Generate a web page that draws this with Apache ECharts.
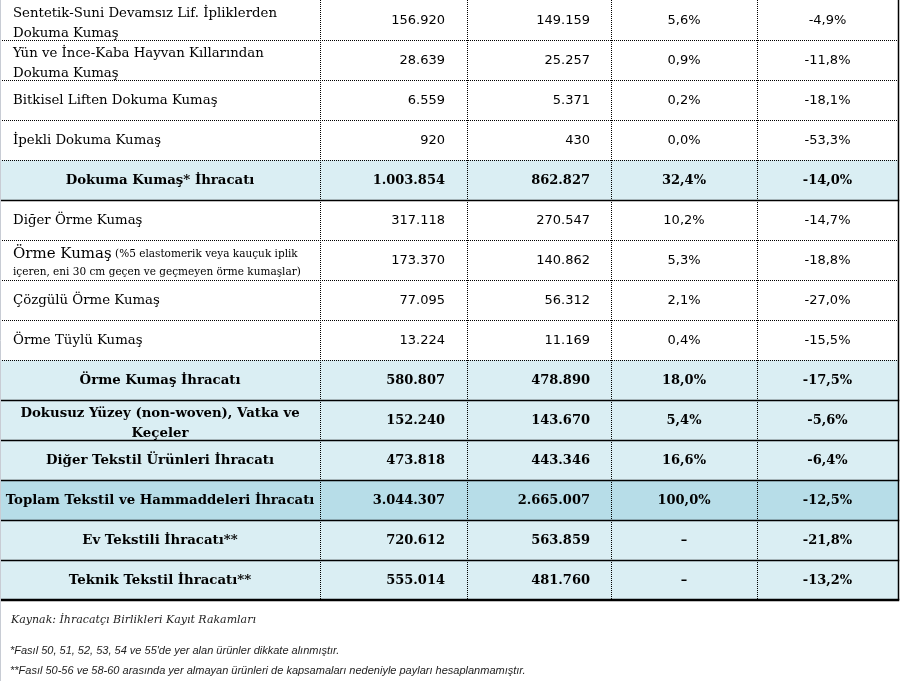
<!DOCTYPE html>
<html>
<head>
<meta charset="utf-8">
<script src="https://cdn.jsdelivr.net/npm/echarts@6/dist/echarts.min.js"></script>
<style>
html,body{margin:0;padding:0;background:#fff;}
#chart{width:901px;height:681px;}
</style>
</head>
<body>
<div id="chart"></div>
<script>
// ---- data ----
const categories = [
  "Sentetik-Suni Devamsız Lif. İpliklerden\nDokuma Kumaş",
  "Yün ve İnce-Kaba Hayvan Kıllarından\nDokuma Kumaş",
  "Bitkisel Liften Dokuma Kumaş",
  "İpekli Dokuma Kumaş",
  "Dokuma Kumaş* İhracatı",
  "Diğer Örme Kumaş",
  "Örme Kumaş (%5 elastomerik veya kauçuk iplik\niçeren, eni 30 cm geçen ve geçmeyen örme kumaşlar)",
  "Çözgülü Örme Kumaş",
  "Örme Tüylü Kumaş",
  "Örme Kumaş İhracatı",
  "Dokusuz Yüzey (non-woven), Vatka ve\nKeçeler",
  "Diğer Tekstil Ürünleri İhracatı",
  "Toplam Tekstil ve Hammaddeleri İhracatı",
  "Ev Tekstili İhracatı**",
  "Teknik Tekstil İhracatı**"
];
const exportPrev = [156920, 28639, 6559, 920, 1003854, 317118, 173370, 77095, 13224, 580807, 152240, 473818, 3044307, 720612, 555014];
const exportCurr = [149159, 25257, 5371, 430, 862827, 270547, 140862, 56312, 11169, 478890, 143670, 443346, 2665007, 563859, 481760];
const sharePct   = [5.6, 0.9, 0.2, 0.0, 32.4, 10.2, 5.3, 2.1, 0.4, 18.0, 5.4, 16.6, 100.0, null, null];
const changePct  = [-4.9, -11.8, -18.1, -53.3, -14.0, -14.7, -18.8, -27.0, -15.5, -17.5, -5.6, -6.4, -12.5, -21.8, -13.2];
const rowLevel   = ["item","item","item","item","subtotal","item","item","item","item","subtotal","subtotal","subtotal","total","subtotal","subtotal"];
const footnotes  = [
  "Kaynak: İhracatçı Birlikleri Kayıt Rakamları",
  "*Fasıl 50, 51, 52, 53, 54 ve 55'de yer alan ürünler dikkate alınmıştır.",
  "**Fasıl 50-56 ve 58-60 arasında yer almayan ürünleri de kapsamaları nedeniyle payları hesaplanmamıştır."
];

// ---- layout / style ----
const colEdges = [0, 320, 467, 611, 757, 898];
const fills = { item: "#ffffff", subtotal: "#daeef3", total: "#b7dde8" };

function fmtInt(n) { return String(n).replace(/\B(?=(\d{3})+(?!\d))/g, "."); }
function fmtPct(n) { return n === null ? "–" : n.toFixed(1).replace(".", ",") + "%"; }

const chart = echarts.init(document.getElementById("chart"), null, { renderer: "canvas" });

function rowGeom(api) {
  const i = api.value(1);
  const c = api.coord([0, i]);
  const h = api.size([0, 1])[1];
  const xs = colEdges.map(e => api.coord([e, i])[0]);
  return { i, top: c[1] - h / 2, bot: c[1] + h / 2, mid: c[1], h, xs };
}

function renderFill(params, api) {
  const g = rowGeom(api);
  return { type: "rect", shape: { x: g.xs[0], y: g.top, width: g.xs[5] - g.xs[0], height: g.h },
    style: { fill: fills[rowLevel[g.i]] } };
}

function renderCells(params, api) {
  const { i, top, bot, mid, xs } = rowGeom(api);
  const level = rowLevel[i];
  const bold = level !== "item";
  const children = [];
  for (let k = 1; k <= 4; k++) {
    const x = Math.round(xs[k]) + 0.5;
    children.push({ type: "line", shape: { x1: x, y1: top, x2: x, y2: bot },
      style: { stroke: "#000", lineWidth: 1, lineDash: [1, 1] } });
  }
  children.push({ type: "line", shape: { x1: xs[5] + 0.5, y1: top, x2: xs[5] + 0.5, y2: bot }, style: { stroke: "#000", lineWidth: 1.5 } });
  const last = i === categories.length - 1;
  const by = last ? Math.round(bot) : Math.round(bot) + 0.5;
  children.push({ type: "line", shape: { x1: xs[0], y1: by, x2: xs[5] + 1.25, y2: by },
    style: bold ? { stroke: "#000", lineWidth: last ? 2.5 : 1.3 } : { stroke: "#000", lineWidth: 1, lineDash: [1, 1] } });

  const name = categories[i];
  if (name.indexOf(" (%") > 0) {
    const p = name.indexOf(" (%");
    const head = name.slice(0, p);
    const rest = name.slice(p + 1).split("\n");
    children.push({ type: "text", style: {
      text: "{a|" + head + "} {b|" + rest[0] + "}\n{b|" + rest[1] + "}",
      x: xs[0] + 13, y: mid + 3, textAlign: "left", textVerticalAlign: "middle", fill: "#000",
      rich: { a: { fontFamily: "DejaVu Serif", fontSize: 15, lineHeight: 18, fill: "#000" },
              b: { fontFamily: "DejaVu Serif", fontSize: 10.5, lineHeight: 18, fill: "#000" } } } });
  } else {
    const multi = name.indexOf("\n") > 0;
    children.push({ type: "text", style: {
      text: name, x: bold ? (xs[0] + xs[1]) / 2 : xs[0] + 13, y: mid + (multi ? 3.5 : 1),
      textAlign: bold ? "center" : "left", textVerticalAlign: "middle",
      fontFamily: "DejaVu Serif", fontWeight: bold ? "bold" : "normal", fontSize: 13.3,
      lineHeight: 20, fill: "#000" } });
  }
  const ny = mid + 1;
  const numStyle = bold
    ? { fontFamily: "DejaVu Serif", fontWeight: "bold", fontSize: 13, fill: "#000" }
    : { fontFamily: "DejaVu Sans", fontWeight: "normal", fontSize: 13, fill: "#000" };
  const cells = [
    [fmtInt(exportPrev[i]), xs[2] - 22, "right"],
    [fmtInt(exportCurr[i]), xs[3] - 21, "right"],
    [fmtPct(sharePct[i]), (xs[3] + xs[4]) / 2, "center"],
    [fmtPct(changePct[i]), (xs[4] + xs[5]) / 2, "center"]
  ];
  cells.forEach(([t, x, a]) => {
    children.push({ type: "text", style: Object.assign({ text: t, x: x, y: ny, textAlign: a, textVerticalAlign: "middle" }, numStyle) });
  });
  return { type: "group", children };
}

const rowData = categories.map((_, i) => [0, i]);

chart.setOption({
  animation: false,
  grid: { left: 0, top: 0, width: 898, height: 600 },
  xAxis: { type: "value", min: 0, max: 898, show: false },
  yAxis: { type: "category", data: categories, inverse: true, show: false },
  series: [
    { type: "custom", renderItem: renderFill, data: rowData, clip: false, z: 1 },
    { type: "custom", renderItem: renderCells, data: rowData, clip: false, z: 2 }
  ],
  graphic: [
    { type: "line", shape: { x1: 0.5, y1: 0, x2: 0.5, y2: 681 }, style: { stroke: "#c8ccd4", lineWidth: 1 }, z: 10 },
    { type: "text", left: 11, top: 615, style: { text: footnotes[0], font: "italic 11px 'DejaVu Serif'", fill: "#222" } },
    { type: "text", left: 10, top: 645, style: { text: footnotes[1], font: "italic 11px 'Liberation Sans'", fill: "#222" } },
    { type: "text", left: 10, top: 665, style: { text: footnotes[2], font: "italic 11px 'Liberation Sans'", fill: "#222" } }
  ]
});
</script>
</body>
</html>
